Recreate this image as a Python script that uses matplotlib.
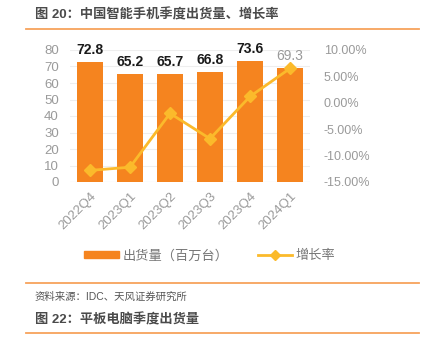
import matplotlib.pyplot as plt
from matplotlib.lines import Line2D
from matplotlib.patches import Patch
from matplotlib.ticker import FuncFormatter

plt.rcParams["font.family"] = ["Liberation Sans", "Noto Sans CJK SC", "DejaVu Sans"]

quarters = ["2022Q4", "2023Q1", "2023Q2", "2023Q3", "2023Q4", "2024Q1"]
shipments = [72.8, 65.2, 65.7, 66.8, 73.6, 69.3]
growth = [-12.8, -12.2, -2.0, -6.8, 1.2, 6.5]

bar_color = "#F5841F"
line_color = "#FBBA2B"
rule_color = "#F7A35C"
tick_gray = "#9A9A9A"

fig = plt.figure(figsize=(4.26, 3.40), dpi=100)

# header / footer text with orange rules
fig.text(35 / 426, 1 - 15 / 340, "图 20：中国智能手机季度出货量、增长率",
         fontsize=9.5, fontweight="bold", color="#4A4A4A", va="center")
for y in (29, 283, 333):
    fig.add_artist(Line2D([26 / 426, 419 / 426], [1 - y / 340] * 2,
                          color=rule_color, linewidth=1.3))
fig.text(35 / 426, 1 - 297 / 340, "资料来源：IDC、天风证券研究所",
         fontsize=7.5, color="#555555", va="center")
fig.text(35 / 426, 1 - 320 / 340, "图 22：平板电脑季度出货量",
         fontsize=9.5, fontweight="bold", color="#4A4A4A", va="center")

ax = fig.add_axes([70 / 426, 1 - 182 / 340, 240 / 426, 132 / 340])
x = range(len(quarters))
bars = ax.bar(x, shipments, width=0.63, color=bar_color, zorder=2)
ax.set_xlim(-0.5, len(quarters) - 0.5)
ax.set_ylim(0, 80)
ax.set_yticks(range(0, 81, 10))
ax.grid(axis="y", color="#EEEEEE", linewidth=0.8, zorder=0)
for s in ax.spines.values():
    s.set_visible(False)
ax.axhline(0, color="#E6E6E6", linewidth=0.8, zorder=1)
ax.tick_params(axis="both", length=0, colors=tick_gray, labelsize=9.5)
ax.tick_params(axis="y", pad=8)
ax.set_xticks(list(x))
ax.set_xticklabels(quarters, rotation=45, ha="right", rotation_mode="anchor")
ax.tick_params(axis="x", pad=6)

for i, (b, v) in enumerate(zip(bars, shipments)):
    last = i == len(shipments) - 1
    ax.text(b.get_x() + b.get_width() / 2, v + 3, f"{v:.1f}",
            ha="center", va="bottom", fontsize=10,
            fontweight="normal" if last else "bold",
            color=tick_gray if last else "#1A1A1A")

ax2 = ax.twinx()
ax2.plot(list(x), growth, color=line_color, linewidth=2, marker="D",
         markersize=6, zorder=3)
ax2.set_ylim(-15, 10)
ax2.set_yticks(range(-15, 11, 5))
ax2.yaxis.set_major_formatter(FuncFormatter(lambda v, p: f"{v:.2f}%"))
for s in ax2.spines.values():
    s.set_visible(False)
ax2.tick_params(axis="y", length=0, colors=tick_gray, labelsize=9, pad=10)

handles = [Patch(color=bar_color),
           Line2D([], [], color=line_color, linewidth=2, marker="D", markersize=5)]
fig.legend(handles, ["出货量（百万台）", "增长率"], loc="center",
           bbox_to_anchor=(210 / 426, 1 - 256 / 340), ncol=2, frameon=False,
           fontsize=9.5, labelcolor="#777777", handlelength=2.6,
           handleheight=0.5, columnspacing=2.2, handletextpad=0.3)

fig.savefig("out.png", dpi=100)
